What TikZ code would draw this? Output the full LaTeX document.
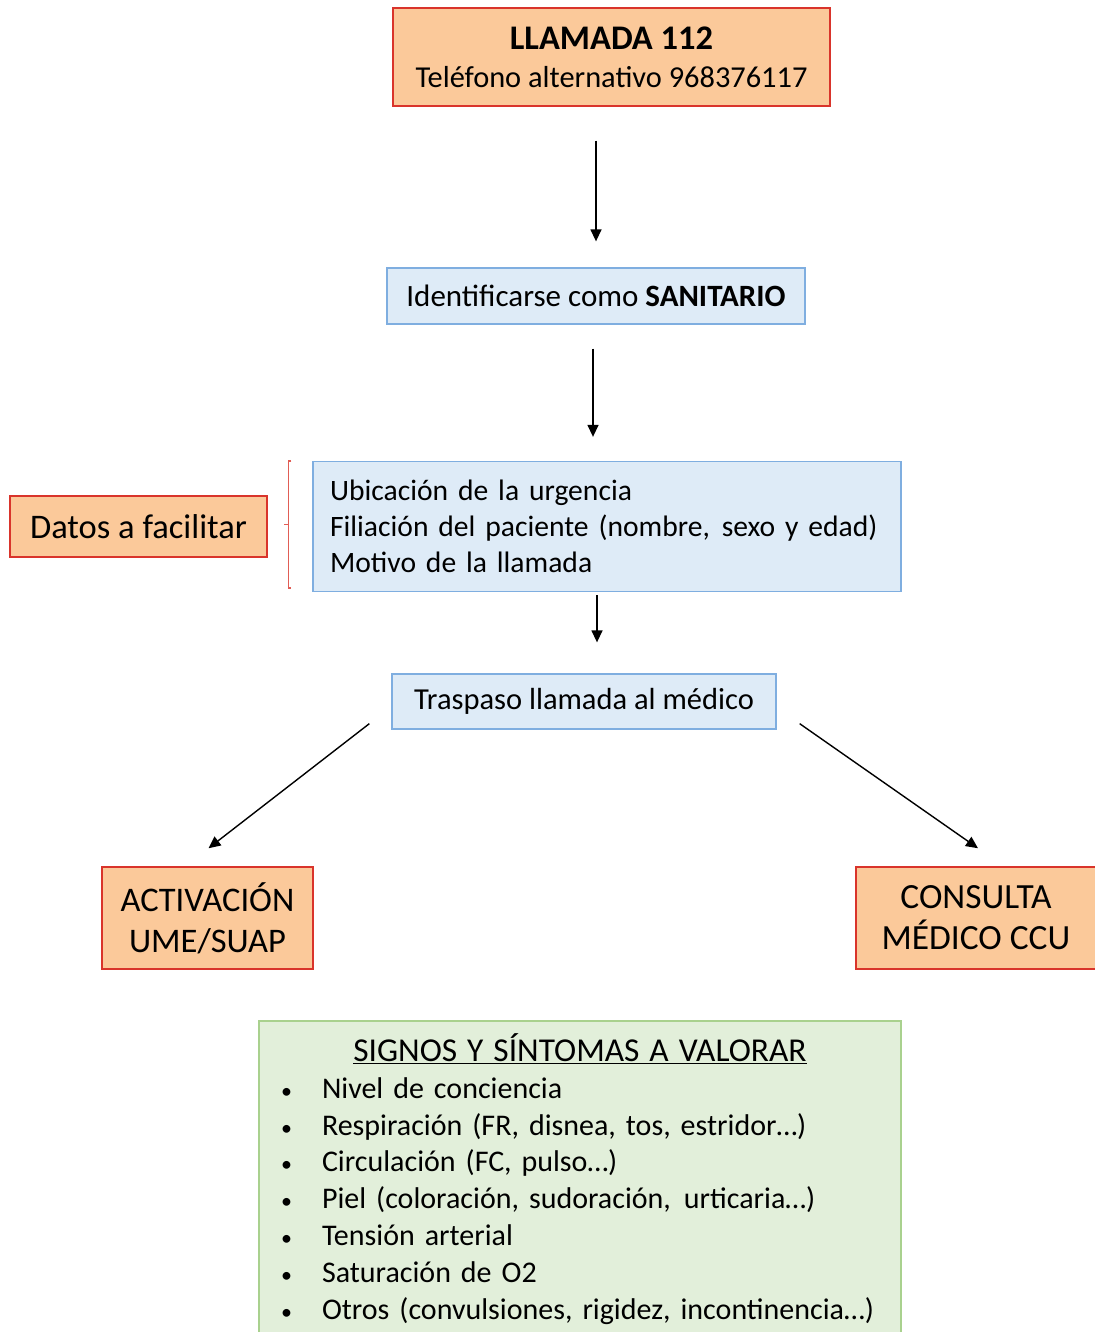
\documentclass[tikz,border=0pt]{standalone}
\usepackage{fontspec}
\setmainfont{Carlito}
\usetikzlibrary{arrows.meta}
\definecolor{naranja}{HTML}{FBC99A}
\definecolor{rojo}{HTML}{D9342B}
\definecolor{azulfondo}{HTML}{DEEBF7}
\definecolor{azulborde}{HTML}{7FAEE0}
\definecolor{verdefondo}{HTML}{E2EFDA}
\definecolor{verdeborde}{HTML}{A9D18E}
\newcommand{\vineta}{\makebox[38pt][l]{\hspace{-3pt}\fontsize{22}{22}\selectfont\textbullet}}

\begin{document}
\begin{tikzpicture}[x=1pt,y=-1pt,>=Latex,
  caja/.style={draw=rojo,fill=naranja,line width=1.5pt,inner sep=0pt,align=center,
    font=\fontsize{34.5}{41}\selectfont},
  paso/.style={draw=azulborde,fill=azulfondo,line width=1.3pt,inner sep=0pt,
    font=\fontsize{30.5}{36}\selectfont},
  flecha/.style={line width=1.4pt,-{Triangle[length=12pt,width=11pt]}}]
  \useasboundingbox (0,0) rectangle (1094,1332);
  % Boxes of the call protocol
  \node[caja,minimum width=437pt,minimum height=98pt,font=\fontsize{30.4}{38}\selectfont] (llamada) at (611.5,57)
    {\fontsize{34.5}{38}\selectfont\textbf{LLAMADA 112}\\Teléfono alternativo 968376117};
  \node[paso,minimum width=418pt,minimum height=56pt,font=\fontsize{31}{36}\selectfont] (identif) at (596,296)
    {Identificarse como \textbf{SANITARIO}};
  \node[paso,minimum height=130pt,text width=554pt,inner xsep=17pt,align=left,
    font=\fontsize{29.6}{36}\selectfont] (datos) at (607,526.5)
    {Ubicación de la urgencia\\\mbox{Filiación del paciente (nombre,\hspace{2pt} sexo y edad)}\\Motivo de la llamada};
  \node[caja,minimum width=257pt,minimum height=61pt] (facilitar) at (138.5,526.5)
    {Datos a facilitar};
  \node[paso,minimum width=384pt,minimum height=55pt] (traspaso) at (584,701.5)
    {Traspaso llamada al médico};
  \node[caja,minimum width=211pt,minimum height=102pt] (activ) at (207.5,918)
    {ACTIVACIÓN\\UME/SUAP};
  \node[caja,minimum width=240pt,minimum height=102pt,font=\fontsize{35.4}{41}\selectfont] (consulta) at (976,918)
    {CONSULTA\\MÉDICO CCU};
  % Signs and symptoms
  \node[draw=verdeborde,fill=verdefondo,line width=1.3pt,minimum height=316pt,
    text width=592pt,inner xsep=25pt,align=left,font=\fontsize{30}{36.8}\selectfont] (signos) at (580,1179)
    {\makebox[\linewidth]{\fontsize{33.4}{36.8}\selectfont\underline{SIGNOS Y SÍNTOMAS A VALORAR}}\\
     \vineta Nivel de conciencia\\
     \vineta Respiración (FR, disnea, tos, estridor…)\\
     \vineta Circulación (FC, pulso…)\\
     \vineta Piel (coloración, sudoración,\hspace{3pt} urticaria…)\\
     \vineta Tensión arterial\\
     \vineta Saturación de O2\\
     \vineta Otros (convulsiones, rigidez, incontinencia…)};
  % Bracket next to the data box
  \draw[rojo!80,line width=1.5pt] ([xshift=-21pt]datos.north west) -- ([xshift=-24pt]datos.north west)
    -- ([xshift=-24pt,yshift=4pt]datos.south west) -- ([xshift=-21pt,yshift=4pt]datos.south west);
  \draw[rojo!80,line width=1.5pt] ([xshift=-24pt,yshift=2pt]datos.west) -- ([xshift=-28pt,yshift=2pt]datos.west);
  % Arrows
  \draw[flecha,shorten <=34pt,shorten >=26pt] (identif.north |- llamada.south) -- (identif.north);
  \draw[flecha,shorten <=24pt,shorten >=24pt] ([xshift=-3pt]identif.south) -- ([xshift=-3pt]identif.south |- datos.north);
  \draw[flecha,shorten <=3pt,shorten >=31pt] ([xshift=-10pt]datos.south) -- ([xshift=-10pt]datos.south |- traspaso.north);
  \draw[flecha] ([xshift=-22pt,yshift=6pt]traspaso.south west) -- ([xshift=1pt,yshift=18pt]activ.north);
  \draw[flecha] ([xshift=23pt,yshift=6pt]traspaso.south east) -- ([xshift=2pt,yshift=18pt]consulta.north);
\end{tikzpicture}
\end{document}
